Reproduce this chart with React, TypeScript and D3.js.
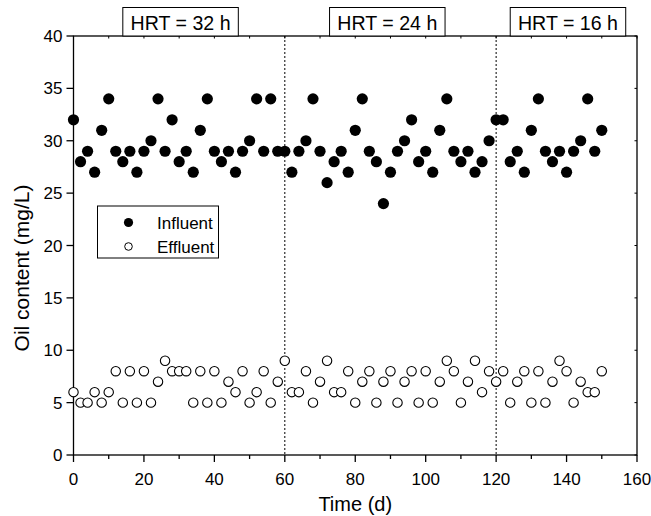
import React from "react";
import * as d3 from "d3";

const days: number[] = d3.range(0, 151, 2);
const influent: number[] = [
  32, 28, 29, 27, 31, 34, 29, 28, 29, 27, 29, 30, 34, 29, 32, 28, 29, 27, 31, 34,
  29, 28, 29, 27, 29, 30, 34, 29, 34, 29, 29, 27, 29, 30, 34, 29, 26, 28, 29, 27,
  31, 34, 29, 28, 24, 27, 29, 30, 32, 28, 29, 27, 31, 34, 29, 28, 29, 27, 28, 30,
  32, 32, 28, 29, 27, 31, 34, 29, 28, 29, 27, 29, 30, 34, 29, 31,
];
const effluent: number[] = [
  6, 5, 5, 6, 5, 6, 8, 5, 8, 5, 8, 5, 7, 9, 8, 8, 8, 5, 8, 5,
  8, 5, 7, 6, 8, 5, 6, 8, 5, 7, 9, 6, 6, 8, 5, 7, 9, 6, 6, 8,
  5, 7, 8, 5, 7, 8, 5, 7, 8, 5, 8, 5, 7, 9, 8, 5, 7, 9, 6, 8,
  7, 8, 5, 7, 8, 5, 8, 5, 7, 9, 8, 5, 7, 6, 6, 8,
];
const xTicks: number[] = [0, 20, 40, 60, 80, 100, 120, 140, 160];
const xMinorTicks: number[] = [10, 30, 50, 70, 90, 110, 130, 150];
const yTicks: number[] = [0, 5, 10, 15, 20, 25, 30, 35, 40];
const phaseLines: number[] = [60, 120];
const hrtLabels: string[] = ["HRT = 32 h", "HRT = 24 h", "HRT = 16 h"];
const hrtCenters: number[] = [30.4, 89.1, 140.4];
const seriesNames: string[] = ["Influent", "Effluent"];

const FONT = "'Liberation Sans', Arial, sans-serif";

export default function App() {
  const W = 651, H = 516;
  const left = 73.5, right = 637, top = 36, bottom = 455;
  const x = d3.scaleLinear().domain([0, 160]).range([left, right]);
  const y = d3.scaleLinear().domain([0, 40]).range([bottom, top]);

  const boxW = 115.5;
  const boxTop = 7.5;

  return (
    <svg
      width={W}
      height={H}
      style={{ position: "absolute", left: 0, top: 0, background: "#fff" }}
      fontFamily={FONT}
    >
      <rect x={0} y={0} width={W} height={H} fill="#fff" />
      {phaseLines.map((p) => (
        <line
          key={p}
          x1={x(p)}
          x2={x(p)}
          y1={top}
          y2={bottom}
          stroke="#000"
          strokeWidth={1}
          strokeDasharray="2,2"
        />
      ))}
      <rect x={left} y={top} width={right - left} height={bottom - top} fill="none" stroke="#000" strokeWidth={1.3} />
      {xTicks.map((t) => (
        <g key={"xt" + t}>
          <line x1={x(t)} x2={x(t)} y1={bottom} y2={bottom + 7} stroke="#000" strokeWidth={1.3} />
          <text x={x(t)} y={bottom + 30} textAnchor="middle" fontSize={17}>
            {t}
          </text>
        </g>
      ))}
      {xMinorTicks.map((t) => (
        <line key={"xm" + t} x1={x(t)} x2={x(t)} y1={bottom} y2={bottom + 4} stroke="#000" strokeWidth={1.3} />
      ))}
      {[...xTicks, ...xMinorTicks].map((t) => (
        <line key={"tt" + t} x1={x(t)} x2={x(t)} y1={top} y2={top + 2.5} stroke="#000" strokeWidth={1} />
      ))}
      {yTicks.map((t) => (
        <g key={"yt" + t}>
          <line x1={left - 7} x2={left} y1={y(t)} y2={y(t)} stroke="#000" strokeWidth={1.3} />
          <text x={left - 11} y={y(t) + 6} textAnchor="end" fontSize={17}>
            {t}
          </text>
        </g>
      ))}
      {yTicks.map((t) => (
        <line key={"rt" + t} x1={right - 2.5} x2={right} y1={y(t)} y2={y(t)} stroke="#000" strokeWidth={1} />
      ))}
      <text x={(left + right) / 2} y={511} textAnchor="middle" fontSize={20}>
        Time (d)
      </text>
      <text
        transform={`translate(29, 268) rotate(-90)`}
        textAnchor="middle"
        fontSize={21}
      >
        Oil content (mg/L)
      </text>
      {influent.map((v, i) => (
        <circle key={"in" + i} cx={x(days[i])} cy={y(v)} r={5.6} fill="#000" />
      ))}
      {effluent.map((v, i) => (
        <circle key={"ef" + i} cx={x(days[i])} cy={y(v)} r={4.7} fill="#fff" stroke="#000" strokeWidth={1.1} />
      ))}
      {hrtLabels.map((lab, i) => (
        <g key={lab}>
          <rect
            x={x(hrtCenters[i]) - boxW / 2}
            y={boxTop}
            width={boxW}
            height={top - boxTop}
            fill="#fff"
            stroke="#000"
            strokeWidth={1}
          />
          <text
            x={x(hrtCenters[i])}
            y={top - 6}
            textAnchor="middle"
            fontSize={21}
            textLength={100}
            lengthAdjust="spacingAndGlyphs"
          >
            {lab}
          </text>
        </g>
      ))}
      <rect x={97.5} y={206} width={121} height={52} fill="#fff" stroke="#000" strokeWidth={1} />
      <circle cx={128.5} cy={222.5} r={4.6} fill="#000" />
      <text x={157} y={228.5} fontSize={17}>
        {seriesNames[0]}
      </text>
      <circle cx={128.5} cy={246.5} r={3.8} fill="#fff" stroke="#000" strokeWidth={1} />
      <text x={157} y={252.5} fontSize={17}>
        {seriesNames[1]}
      </text>
    </svg>
  );
}
